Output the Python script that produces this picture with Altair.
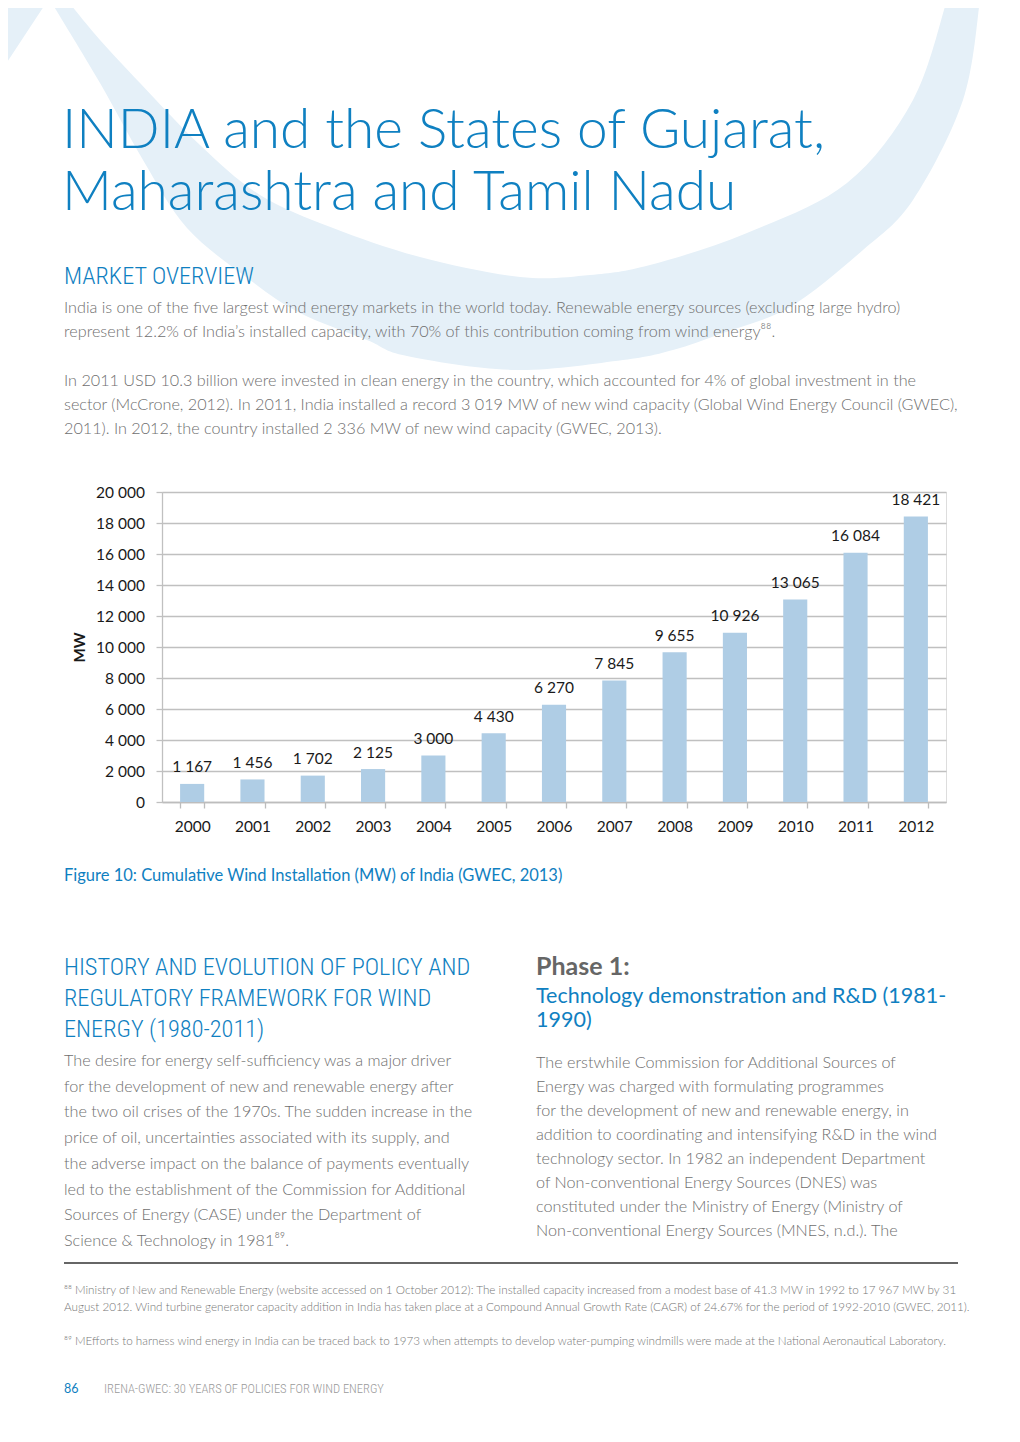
import altair as alt
import pandas as pd

# ---------------- data ----------------
years = ["2000", "2001", "2002", "2003", "2004", "2005", "2006",
         "2007", "2008", "2009", "2010", "2011", "2012"]
mw = [1167, 1456, 1702, 2125, 3000, 4430, 6270, 7845, 9655, 10926, 13065, 16084, 18421]
y_ticks = [0, 2000, 4000, 6000, 8000, 10000, 12000, 14000, 16000, 18000, 20000]

title_lines = ["INDIA and the States of Gujarat,", "Maharashtra and Tamil Nadu"]
section_title = "MARKET OVERVIEW"
para1 = [
    "India is one of the five largest wind energy markets in the world today. Renewable energy sources (excluding large hydro)",
    "represent 12.2% of India\u2019s installed capacity, with 70% of this contribution coming from wind energy\u2078\u2078.",
]
para2 = [
    "In 2011 USD 10.3 billion were invested in clean energy in the country, which accounted for 4% of global investment in the",
    "sector (McCrone, 2012). In 2011, India installed a record 3 019 MW of new wind capacity (Global Wind Energy Council (GWEC),",
    "2011). In 2012, the country installed 2 336 MW of new wind capacity (GWEC, 2013).",
]
caption = "Figure 10: Cumulative Wind Installation (MW) of India (GWEC, 2013)"
history_heading = [
    "HISTORY AND EVOLUTION OF POLICY AND",
    "REGULATORY FRAMEWORK FOR WIND",
    "ENERGY (1980-2011)",
]
history_text = [
    "The desire for energy self-sufficiency was a major driver",
    "for the development of new and renewable energy after",
    "the two oil crises of the 1970s. The sudden increase in the",
    "price of oil, uncertainties associated with its supply, and",
    "the adverse impact on the balance of payments eventually",
    "led to the establishment of the Commission for Additional",
    "Sources of Energy (CASE) under the Department of",
    "Science & Technology in 1981\u2078\u2079.",
]
phase_title = "Phase 1:"
phase_subtitle = ["Technology demonstration and R&D (1981-", "1990)"]
phase_text = [
    "The erstwhile Commission for Additional Sources of",
    "Energy was charged with formulating programmes",
    "for the development of new and renewable energy, in",
    "addition to coordinating and intensifying R&D in the wind",
    "technology sector. In 1982 an independent Department",
    "of Non-conventional Energy Sources (DNES) was",
    "constituted under the Ministry of Energy (Ministry of",
    "Non-conventional Energy Sources (MNES, n.d.). The",
]
footnotes = [
    "\u2078\u2078 Ministry of New and Renewable Energy (website accessed on 1 October 2012): The installed capacity increased from a modest base of 41.3 MW in 1992 to 17 967 MW by 31",
    "August 2012. Wind turbine generator capacity addition in India has taken place at a Compound Annual Growth Rate (CAGR) of 24.67% for the period of 1992-2010 (GWEC, 2011).",
    "\u2078\u2079 MEfforts to harness wind energy in India can be traced back to 1973 when attempts to develop water-pumping windmills were made at the National Aeronautical Laboratory.",
]
footer_page = "86"
footer_text = "IRENA-GWEC: 30 YEARS OF POLICIES FOR WIND ENERGY"

# decorative background swoosh outline (page pixels)
swoosh_outer = [(50, 0), (100, 83), (143, 160), (187, 228), (250, 280), (300, 313), (367, 340),
                (407, 356), (515, 370), (623, 360), (673, 350), (723, 333), (790, 307),
                (863, 250), (913, 200), (963, 100), (980, 0)]
swoosh_inner = [(947, 0), (913, 100), (847, 183), (747, 233), (650, 265), (590, 275), (520, 277),
                (420, 257), (333, 228), (260, 195), (200, 145), (140, 83), (100, 40), (67, 0)]

# ---------------- layout / style ----------------
OX, OY = 162, 492          # plot-area origin in page pixels
W, H = 784, 310
PAGE_W, PAGE_H = 1004, 1426
BLUE = "#0F80C1"
GRAY = "#6f6f6f"
BODY_FONT = "Lato"
COND_FONT = "Roboto Condensed, Liberation Sans Narrow, DejaVu Sans Condensed, Roboto"


def smooth_path(pts):
    d = []
    n = len(pts)
    for i in range(n - 1):
        p0 = pts[i - 1] if i > 0 else pts[i]
        p1 = pts[i]
        p2 = pts[i + 1]
        p3 = pts[i + 2] if i + 2 < n else pts[i + 1]
        c1 = (p1[0] + (p2[0] - p0[0]) / 6, p1[1] + (p2[1] - p0[1]) / 6)
        c2 = (p2[0] - (p3[0] - p1[0]) / 6, p2[1] - (p3[1] - p1[1]) / 6)
        d.append("C%.1f,%.1f %.1f,%.1f %.1f,%.1f" % (c1[0], c1[1], c2[0], c2[1], p2[0], p2[1]))
    return " ".join(d)


path = "M%.1f,%.1f " % swoosh_outer[0] + smooth_path(swoosh_outer)
path += " L%.1f,%.1f " % swoosh_inner[0] + smooth_path(swoosh_inner) + " Z"
path += " M0,0 L48,0 L0,73 Z"

background = alt.Chart(pd.DataFrame({"k": [0]})).mark_point(
    shape=path, filled=True, fill="#E5F0F8", strokeWidth=0, opacity=1
).encode(x=alt.value(-OX), y=alt.value(-OY), size=alt.value(4))


def txt(s, x, y, size, color=GRAY, font=BODY_FONT, weight="normal", align="left"):
    return alt.Chart(pd.DataFrame({"t": [s]})).mark_text(
        align=align, baseline="alphabetic", font=font, fontSize=size,
        fontWeight=weight, color=color
    ).encode(text="t:N", x=alt.value(x - OX), y=alt.value(y - OY))


BODY = 16.2
texts = []
for i, s in enumerate(title_lines):
    texts.append(txt(s, 62, 148 + 62 * i, 55, BLUE, BODY_FONT, 300))
texts.append(txt(section_title, 64, 284, 24.2, BLUE, COND_FONT, 300))
for i, s in enumerate(para1):
    texts.append(txt(s, 64, 313 + 24 * i, BODY, GRAY, BODY_FONT, 300))
for i, s in enumerate(para2):
    texts.append(txt(s, 64, 386 + 24 * i, BODY, GRAY, BODY_FONT, 300))
texts.append(txt(caption, 64, 881, 16.5, BLUE, BODY_FONT, 400))
for i, s in enumerate(history_heading):
    texts.append(txt(s, 64, 975 + 31 * i, 24.3, BLUE, COND_FONT, 300))
for i, s in enumerate(history_text):
    texts.append(txt(s, 64, 1066 + 25.7 * i, BODY, GRAY, BODY_FONT, 300))
texts.append(txt(phase_title, 536, 975, 25, "#666666", BODY_FONT, 700))
for i, s in enumerate(phase_subtitle):
    texts.append(txt(s, 536, 1003 + 24 * i, 21.5, BLUE, BODY_FONT, 400))
for i, s in enumerate(phase_text):
    texts.append(txt(s, 536, 1068 + 24 * i, BODY, GRAY, BODY_FONT, 300))
for s, yb in zip(footnotes, [1294, 1311, 1345]):
    texts.append(txt(s, 64, yb, 11.7, "#777777", BODY_FONT, 300))
texts.append(txt(footer_page, 64, 1393, 12.5, BLUE, BODY_FONT, 400))
texts.append(txt(footer_text, 104, 1393, 12.5, "#9a9a9a", COND_FONT, 300))

rule = alt.Chart(pd.DataFrame({"k": [0]})).mark_rule(color="#666666", strokeWidth=2).encode(
    x=alt.value(64 - OX), x2=alt.value(958 - OX), y=alt.value(1263 - OY)
)

# ---------------- bar chart ----------------
df = pd.DataFrame({
    "year": years,
    "mw": mw,
    "label": [f"{v:,}".replace(",", " ") for v in mw],
})

base = alt.Chart(df).encode(
    x=alt.X("year:N", sort=years, title=None,
            scale=alt.Scale(paddingInner=0.6, paddingOuter=0.3),
            axis=alt.Axis(labelAngle=0, tickBand="extent", tickSize=6, tickColor="#bdbdbd",
                          tickWidth=1.3, domainColor="#bdbdbd", domainWidth=1.3,
                          labelFont=BODY_FONT, labelFontSize=15.5, labelColor="#1a1a1a",
                          labelPadding=11, grid=False)),
    y=alt.Y("mw:Q", title="MW",
            scale=alt.Scale(domain=[0, 20000], nice=False),
            axis=alt.Axis(values=y_ticks, grid=True, gridColor="#c0c0c0", gridWidth=1.3,
                          tickSize=6, tickColor="#c0c0c0", tickWidth=1.3,
                          domainColor="#c0c0c0", domainWidth=1.3,
                          labelFont=BODY_FONT, labelFontSize=15.5, labelColor="#1a1a1a",
                          labelPadding=11.5,
                          labelExpr="replace(format(datum.value, ','), ',', ' ')",
                          titleFont=BODY_FONT, titleFontSize=15, titleFontWeight="bold",
                          titleColor="#1a1a1a", titleAngle=270, titleX=-82.5, titleY=H / 2,
                          titleAlign="center", titleBaseline="middle")),
)

bars = base.mark_bar(color="#AFCDE5")
labels = base.mark_text(dy=-16.5, baseline="middle", font=BODY_FONT, fontSize=15.5,
                        color="#1a1a1a").encode(text="label:N")

chart = alt.layer(background, bars, labels, rule, *texts).properties(
    width=W, height=H,
    autosize=alt.AutoSizeParams(type="none"),
    padding={"left": OX - 8, "top": OY - 8,
             "right": PAGE_W - (OX - 8) - W, "bottom": PAGE_H - (OY - 8) - H},
).configure_view(strokeWidth=0).configure(background="white")

chart.save("out.html", embed_options={"renderer": "svg", "actions": False})
